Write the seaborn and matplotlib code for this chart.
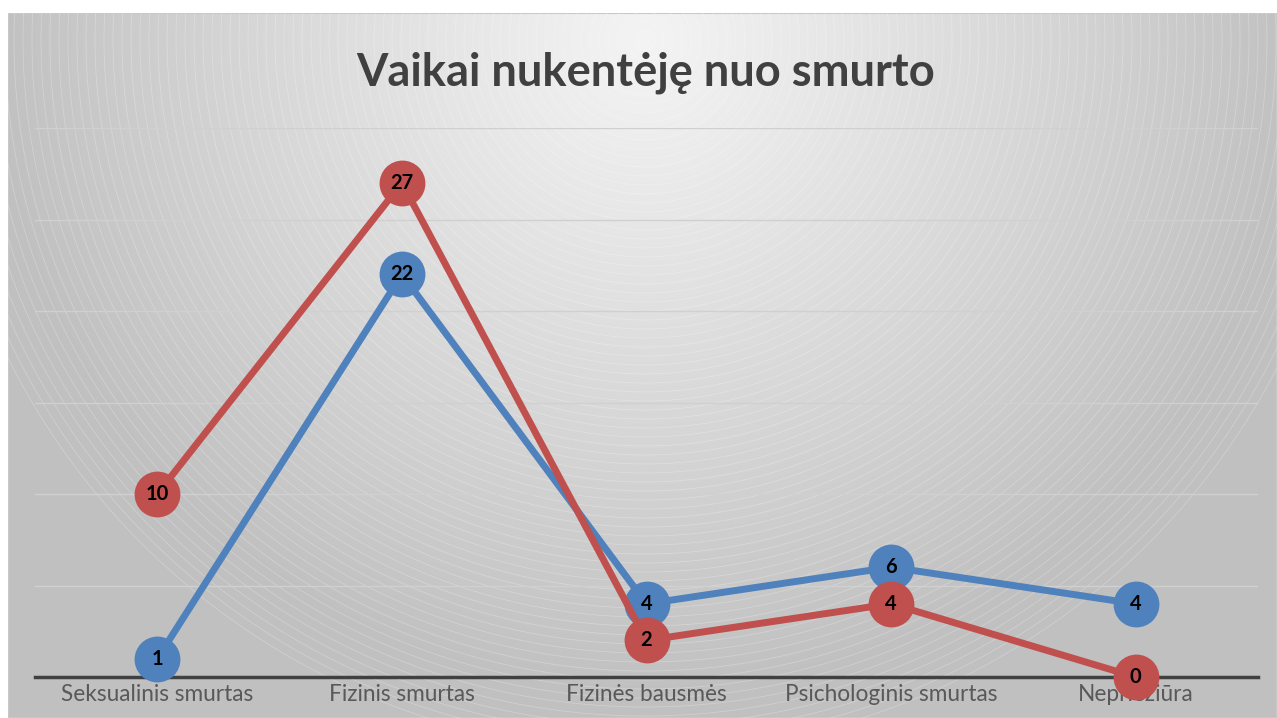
import numpy as np
import pandas as pd
import matplotlib
matplotlib.use("Agg")
import matplotlib.pyplot as plt
import seaborn as sns

# Chart data
categories = ["Seksualinis smurtas", "Fizinis smurtas", "Fizinės bausmės",
              "Psichologinis smurtas", "Nepriežiūra"]
blue_values = [1, 22, 4, 6, 4]
red_values = [10, 27, 2, 4, 0]
series_names = ["Serija 1", "Serija 2"]
y_ticks = [0, 5, 10, 15, 20, 25, 30]
title = "Vaikai nukentėję nuo smurto"

df = pd.DataFrame({
    "kategorija": categories * 2,
    "reiksme": blue_values + red_values,
    "serija": [series_names[0]] * len(categories) + [series_names[1]] * len(categories),
})

sns.set_theme(style="white")
plt.rcParams["font.family"] = ["Lato", "DejaVu Sans"]

W, H = 1277, 718
fig = plt.figure(figsize=(W / 100, H / 100), dpi=100)
fig.patch.set_facecolor("white")

# Background panel: radial gradient with faint concentric arcs
bg = fig.add_axes([8 / W, 0, 1 - 8 / W, 1 - 13 / H])
bw, bh = W - 8, H - 13
yy, xx = np.mgrid[0:bh, 0:bw]
cx, cy = 637, 27
r = np.hypot(xx - cx, yy - cy)
t = np.clip(r / 650, 0, 1) ** 1.1
shade = 0.955 - (0.955 - 0.755) * t
bg.imshow(np.dstack([shade] * 3), extent=(0, bw, bh, 0), aspect="auto", interpolation="bilinear")
theta = np.linspace(0, np.pi * 2, 720)
for rad in np.arange(10, 720, 9):
    bg.plot(cx + rad * np.cos(theta), cy + rad * np.sin(theta),
            color="white", lw=0.6, alpha=0.25)
bg.set_xlim(0, bw)
bg.set_ylim(bh, 0)
bg.axis("off")
bg.add_patch(plt.Rectangle((0, 0), bw, bh, fill=False, edgecolor="#c8c8c8", lw=1.5))

# Plot area
ax = fig.add_axes([35 / W, 1 - 677 / H, 1223 / W, (677 - 128) / H])
ax.set_facecolor("none")
palette = {series_names[0]: "#4F81BD", series_names[1]: "#C0504D"}
sns.lineplot(data=df, x="kategorija", y="reiksme", hue="serija", palette=palette,
             marker="o", markersize=33, markeredgewidth=0, linewidth=5,
             sort=False, legend=False, ax=ax, zorder=3, clip_on=False)

for _, row in df.iterrows():
    ax.text(categories.index(row["kategorija"]), row["reiksme"], str(row["reiksme"]),
            ha="center", va="center", fontsize=14.5, fontweight="bold",
            color="black", zorder=5, clip_on=False)

ax.set_xlim(-0.5, len(categories) - 0.5)
ax.set_ylim(0, 30)
ax.set_yticks(y_ticks)
ax.set_yticklabels([])
ax.tick_params(axis="y", length=0)
ax.tick_params(axis="x", length=0, labelsize=16.3, labelcolor="#595959", pad=5)
ax.grid(axis="y", color="#d0d0d0", lw=1)
ax.set_axisbelow(True)
for side in ["top", "right", "left"]:
    ax.spines[side].set_visible(False)
ax.spines["bottom"].set_color("#404040")
ax.spines["bottom"].set_linewidth(2.5)
ax.spines["bottom"].set_zorder(2)
ax.set_xlabel("")
ax.set_ylabel("")

fig.text(646 / W, 1 - 73 / H, title, ha="center", va="center",
         fontsize=32.6, fontweight="bold", color="#404040")

fig.savefig("out.png", dpi=100)
